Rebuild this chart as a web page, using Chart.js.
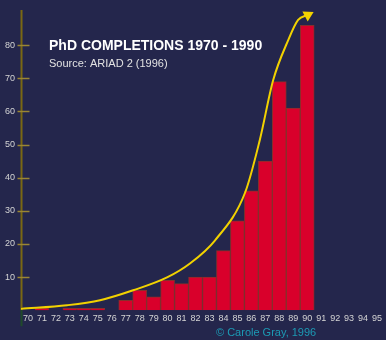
<!DOCTYPE html>
<html>
<head>
<meta charset="utf-8">
<script src="https://cdn.jsdelivr.net/npm/chart.js@4/dist/chart.umd.min.js"></script>
<style>
  html, body { margin: 0; padding: 0; background: #24264c; }
  #wrap { width: 386px; height: 340px; }
</style>
</head>
<body>
<div id="wrap"><canvas id="c" width="386" height="340"></canvas></div>
<script>
// Years 1970-1995, shown as two-digit labels
const years = ['70','71','72','73','74','75','76','77','78','79','80','81','82','83','84','85','86','87','88','89','90','91','92','93','94','95'];

// PhD completions per year (no data after 1990)
const completions = [0, 0.6, 0, 0.6, 0.6, 0.6, 0, 3, 6, 4, 9, 8, 10, 10, 18, 27, 36, 45, 69, 61, 86, null, null, null, null, null];

// Growth trend curve: position along the year axis (0 = 1970) and value
const trendX = [-0.5, 2.8, 5.16, 7.53, 9.96, 11.6, 13.4, 15.56, 16.6, 17.56, 18.64, 19.35, 20.05];
const trendY = [0.4, 1.5, 3.0, 6.0, 9.9, 14.1, 21.1, 35.6, 51.3, 69.4, 81.5, 87.6, 89.1];

// Value axis labels
const yTicks = [10, 20, 30, 40, 50, 60, 70, 80];

const titleText = 'PhD COMPLETIONS 1970 - 1990';
const sourceText = 'Source: ARIAD 2 (1996)';
const creditText = '\u00A9 Carole Gray, 1996';

const FONT = '"Liberation Sans", Arial, Helvetica, sans-serif';

// Value axis line with tick marks that cross it
const axisPlugin = {
  id: 'axisLine',
  beforeDatasetsDraw(chart) {
    const { ctx, chartArea } = chart;
    const y = chart.scales.y;
    const x0 = Math.round(chartArea.left) + 0.5;
    ctx.save();
    ctx.strokeStyle = '#7a6812';
    ctx.lineWidth = 2;
    ctx.beginPath();
    ctx.moveTo(x0, chartArea.top);
    ctx.lineTo(x0, chartArea.bottom);
    ctx.stroke();
    ctx.strokeStyle = '#1f4a2a';
    ctx.beginPath();
    ctx.moveTo(x0, chartArea.bottom);
    ctx.lineTo(x0, chartArea.bottom + 16);
    ctx.stroke();
    ctx.strokeStyle = '#9a8634';
    ctx.lineWidth = 1.5;
    yTicks.forEach(v => {
      const py = Math.round(y.getPixelForValue(v)) + 0.5;
      ctx.beginPath();
      ctx.moveTo(x0 - 4, py);
      ctx.lineTo(x0 + 8, py);
      ctx.stroke();
    });
    ctx.restore();
  }
};

// Heading, source note and credit line
const textPlugin = {
  id: 'texts',
  afterDraw(chart) {
    const { ctx } = chart;
    ctx.save();
    ctx.textAlign = 'left';
    ctx.textBaseline = 'alphabetic';
    ctx.fillStyle = '#ffffff';
    ctx.font = 'bold 14px ' + FONT;
    ctx.fillText(titleText, 49, 50);
    ctx.fillStyle = '#e2e2e2';
    ctx.font = '11px ' + FONT;
    ctx.fillText(sourceText, 49, 67);
    ctx.fillStyle = '#1c9ab4';
    ctx.font = '11px ' + FONT;
    ctx.fillText(creditText, 216, 336);
    ctx.restore();
  }
};

// Bars sit on whole year positions, the trend curve runs between them
const barData = completions
  .map((v, i) => ({ x: i, y: v }))
  .filter(d => d.y !== null);
const trendData = trendX.map((x, i) => ({ x: x, y: trendY[i] }));
const lastIdx = trendData.length - 1;

new Chart(document.getElementById('c'), {
  type: 'bar',
  data: {
    datasets: [
      {
        type: 'line',
        label: 'Trend',
        data: trendData,
        borderColor: '#f2d200',
        backgroundColor: '#f2d200',
        borderWidth: 2,
        cubicInterpolationMode: 'monotone',
        fill: false,
        clip: false,
        pointStyle: 'triangle',
        pointRadius: trendData.map((d, i) => i === lastIdx ? 6.5 : 0),
        pointRotation: trendData.map((d, i) => i === lastIdx ? 62 : 0),
        pointBorderWidth: 0,
        order: 0
      },
      {
        type: 'bar',
        label: 'PhD completions',
        data: barData,
        backgroundColor: '#d9002b',
        borderColor: '#86302c',
        borderWidth: 1,
        borderSkipped: 'start',
        grouped: false,
        barPercentage: 1,
        categoryPercentage: 1,
        order: 1
      }
    ]
  },
  options: {
    responsive: false,
    devicePixelRatio: 1,
    animation: false,
    layout: { autoPadding: false, padding: { top: 10, right: 2, bottom: 13, left: 0 } },
    plugins: {
      legend: { display: false },
      tooltip: { enabled: false },
      title: { display: false }
    },
    scales: {
      x: {
        type: 'linear',
        offset: false,
        min: -0.5,
        max: years.length - 0.5,
        grid: { display: false, drawTicks: false },
        border: { display: false },
        ticks: {
          color: '#d4d4d4',
          font: { family: FONT, size: 9 },
          padding: 3,
          autoSkip: false,
          maxRotation: 0,
          callback: (v) => years[v]
        },
        afterBuildTicks(scale) {
          scale.ticks = years.map((_, i) => ({ value: i }));
        },
        afterFit(scale) {
          scale.paddingLeft = 0;
          scale.paddingRight = 0;
        }
      },
      y: {
        type: 'linear',
        min: 0,
        max: 90.6,
        grid: { display: false, drawTicks: false, tickLength: 0 },
        border: { display: false },
        ticks: {
          color: '#d4d4d4',
          font: { family: FONT, size: 9 },
          padding: 6
        },
        afterBuildTicks(scale) {
          scale.ticks = yTicks.map(v => ({ value: v }));
        },
        afterFit(scale) {
          scale.width = 21;
          scale.paddingTop = 0;
        }
      }
    }
  },
  plugins: [axisPlugin, textPlugin]
});
</script>
</body>
</html>
